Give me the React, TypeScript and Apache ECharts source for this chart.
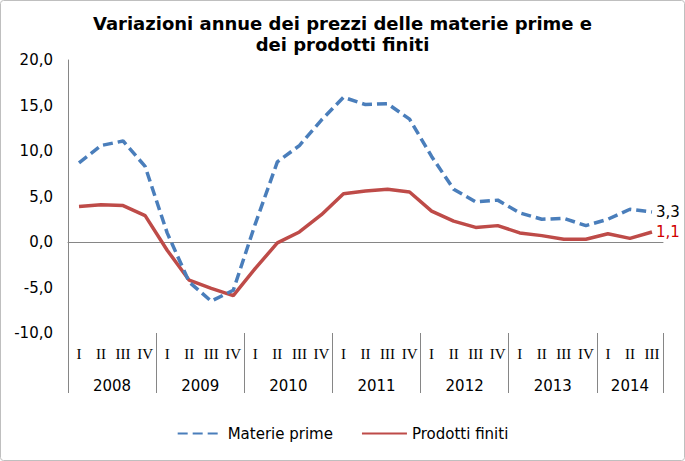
import React, { useEffect, useRef } from 'react';
import * as echarts from 'echarts';

const years = ['2008', '2009', '2010', '2011', '2012', '2013', '2014'];
const quarterNames = ['I', 'II', 'III', 'IV'];
const quartersPerYear = [4, 4, 4, 4, 4, 4, 3];

const materiePrime = [8.7, 10.6, 11.1, 8.3, 1.0, -4.4, -6.5, -5.3, 2.0, 8.8, 10.6, 13.4, 15.9, 15.1, 15.2, 13.5, 9.4, 5.8, 4.4, 4.6, 3.2, 2.5, 2.6, 1.8, 2.5, 3.6, 3.3];
const prodottiFiniti = [3.9, 4.1, 4.0, 2.9, -0.9, -4.2, -5.1, -5.9, -2.9, -0.1, 1.1, 3.0, 5.3, 5.6, 5.8, 5.5, 3.4, 2.3, 1.6, 1.8, 1.0, 0.7, 0.3, 0.3, 0.9, 0.4, 1.1];

const yMin = -10;
const yMax = 20;
const yStep = 5;

const titleText = 'Variazioni annue dei prezzi delle materie prime e\ndei prodotti finiti';
const seriesNames = ['Materie prime', 'Prodotti finiti'];

const fmt = (v: number) => v.toFixed(1).replace('.', ',');

export default function App() {
  const ref = useRef<HTMLDivElement>(null);

  useEffect(() => {
    const chart = echarts.init(ref.current!, null, { renderer: 'svg' });

    const periods: string[] = [];
    const quarterLabels: string[] = [];
    years.forEach((y, yi) => {
      for (let q = 0; q < quartersPerYear[yi]; q++) {
        periods.push(y + ' ' + quarterNames[q]);
        quarterLabels.push(quarterNames[q]);
      }
    });
    const n = periods.length;
    // half-quarter resolution axis (boundaryGap false) for year labels and separators
    const halfPoints: string[] = new Array(2 * n + 1).fill('');
    const separators = new Set<number>();
    let start = 0;
    years.forEach((y, yi) => {
      const len = quartersPerYear[yi];
      separators.add(2 * start);
      halfPoints[start * 2 + len] = y;
      start += len;
    });
    separators.add(2 * start);

    const font = 'DejaVu Sans';
    const gray = '#868686';

    chart.setOption({
      animation: false,
      title: {
        text: titleText,
        left: 'center',
        top: 8,
        textStyle: { fontFamily: font, fontSize: 18, fontWeight: 'bold', color: '#000', lineHeight: 21 },
      },
      grid: { left: 68, right: 22, top: 60, bottom: 128, containLabel: false },
      legend: {
        bottom: 15,
        left: 'center',
        itemWidth: 45,
        itemHeight: 12,
        itemGap: 28,
        itemStyle: { opacity: 0 },
        textStyle: { fontFamily: font, fontSize: 15, color: '#000' },
        data: seriesNames,
      },
      xAxis: [
        {
          type: 'category',
          data: periods,
          boundaryGap: true,
          axisLine: { show: true, onZero: true, lineStyle: { color: gray, width: 1 } },
          axisTick: { show: false },
          axisLabel: { show: false },
          splitLine: { show: false },
        },
        {
          type: 'category',
          data: quarterLabels,
          boundaryGap: true,
          position: 'bottom',
          axisLine: { show: false, onZero: false },
          axisTick: { show: false },
          axisLabel: { show: true, interval: 0, margin: 13, fontFamily: 'Liberation Serif', fontSize: 15, color: '#000' },
          splitLine: { show: false },
        },
        {
          type: 'category',
          data: halfPoints,
          boundaryGap: false,
          position: 'bottom',
          axisLine: { show: false, onZero: false },
          axisTick: {
            show: true,
            length: 60,
            interval: (idx: number) => separators.has(idx),
            lineStyle: { color: gray, width: 1 },
          },
          axisLabel: { show: true, interval: 0, margin: 45, fontFamily: font, fontSize: 15, color: '#000' },
          splitLine: { show: false },
        },
      ],
      yAxis: {
        type: 'value',
        min: yMin,
        max: yMax,
        interval: yStep,
        axisLine: { show: true, lineStyle: { color: gray, width: 1 } },
        axisTick: { show: false },
        splitLine: { show: false },
        axisLabel: { margin: 15, fontFamily: font, fontSize: 15, color: '#000', formatter: (v: number) => fmt(v) },
      },
      series: [
        {
          name: seriesNames[0],
          type: 'line',
          data: materiePrime,
          symbol: 'none',
          itemStyle: { color: '#4a7ebb' },
          lineStyle: { color: '#4a7ebb', width: 3.5, type: [10, 5] },
          endLabel: { show: true, distance: 4, formatter: (p: any) => fmt(p.value), fontFamily: font, fontSize: 15, color: '#000' },
          z: 3,
        },
        {
          name: seriesNames[1],
          type: 'line',
          data: prodottiFiniti,
          symbol: 'none',
          itemStyle: { color: '#be4b48' },
          lineStyle: { color: '#be4b48', width: 3.5 },
          endLabel: { show: true, distance: 4, formatter: (p: any) => fmt(p.value), fontFamily: font, fontSize: 15, color: '#d00000' },
          z: 2,
        },
      ],
      graphic: [
        {
          type: 'rect',
          shape: { x: 0.5, y: 0.5, width: 684, height: 460, r: 3 },
          style: { fill: 'none', stroke: '#bfbfbf', lineWidth: 1 },
          silent: true,
        },
      ],
    });

    return () => chart.dispose();
  }, []);

  return <div ref={ref} style={{ position: 'fixed', left: 0, top: 0, width: 685, height: 461, background: '#fff' }} />;
}
